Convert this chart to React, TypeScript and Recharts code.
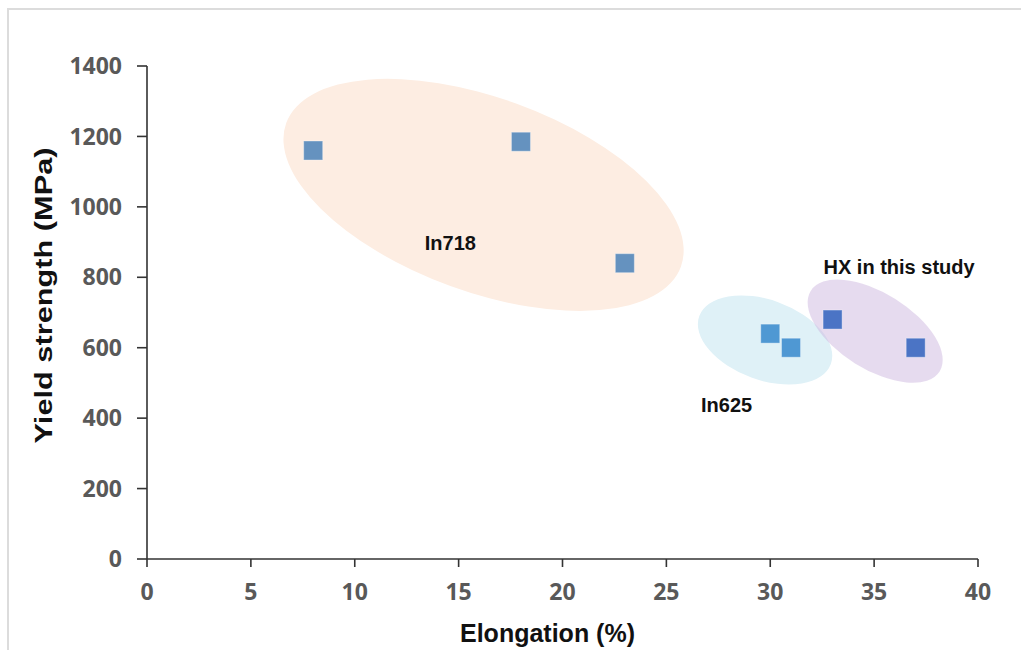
import React from 'react';
import { ScatterChart, Scatter, XAxis, YAxis } from 'recharts';

// ---- data ----
const in718X = [8, 18, 23];
const in718Y = [1160, 1185, 840];
const in625X = [30, 31];
const in625Y = [640, 600];
const hxX = [33, 37];
const hxY = [680, 600];

const groupNames = ['In718', 'In625', 'HX in this study'];
const groupCenterX = [16.2, 29.75, 35.05];
const groupCenterY = [1034, 622, 647];
const labelX = [14.6, 27.9, 36.2];
const labelY = [897, 437, 829];

const xTicks = [0, 5, 10, 15, 20, 25, 30, 35, 40];
const yTicks = [0, 200, 400, 600, 800, 1000, 1200, 1400];

const zip = (xs: number[], ys: number[]) => xs.map((x, i) => ({ x, y: ys[i] }));
const in718 = zip(in718X, in718Y);
const in625 = zip(in625X, in625Y);
const hx = zip(hxX, hxY);
const ellipseData = groupNames.map((name, i) => ({ name, x: groupCenterX[i], y: groupCenterY[i] }));
const labelData = groupNames.map((name, i) => ({ name, x: labelX[i], y: labelY[i] }));

// ---- styles ----
const ellipseStyle: Record<string, { rx: number; ry: number; angle: number; fill: string; opacity: number }> = {
  'In718': { rx: 210, ry: 97, angle: 20, fill: '#fdede2', opacity: 1 },
  'In625': { rx: 70, ry: 40, angle: 20, fill: '#dff1f7', opacity: 1 },
  'HX in this study': { rx: 76, ry: 38, angle: 32, fill: '#cdb8e0', opacity: 0.5 },
};

const EllipseShape = (props: any) => {
  const { cx, cy, payload } = props;
  const s = ellipseStyle[payload.name];
  return (
    <ellipse
      cx={cx}
      cy={cy}
      rx={s.rx}
      ry={s.ry}
      fill={s.fill}
      fillOpacity={s.opacity}
      transform={`rotate(${s.angle}, ${cx}, ${cy})`}
    />
  );
};

const LabelShape = (props: any) => {
  const { cx, cy, payload } = props;
  return (
    <text
      x={cx}
      y={cy}
      textAnchor="middle"
      dominantBaseline="central"
      fontFamily="'Liberation Sans', Arial, sans-serif"
      fontWeight={700}
      fontSize={20}
      fill="#111"
    >
      {payload.name}
    </text>
  );
};

const makeSquare = (color: string) => (props: any) => {
  const { cx, cy } = props;
  const s = 19;
  return <rect x={cx - s / 2} y={cy - s / 2} width={s} height={s} fill={color} stroke="#ffffff" strokeOpacity={0.35} strokeWidth={1} />;
};

const tickStyle = {
  fontFamily: "'Open Sans', sans-serif",
  fontWeight: 700,
  fontSize: 23,
  fill: '#595959',
};

const XTitle = (props: any) => {
  const vb = props.viewBox || {};
  return (
    <text
      x={vb.x + vb.width / 2 - 15}
      y={642}
      textAnchor="middle"
      fontFamily="'Liberation Sans', Arial, sans-serif"
      fontWeight={700}
      fontSize={25}
      fill="#111"
    >
      Elongation (%)
    </text>
  );
};

const YTitle = (props: any) => {
  const vb = props.viewBox || {};
  const x = 52;
  const y = vb.y + vb.height / 2 - 17;
  return (
    <text
      x={x}
      y={y}
      textAnchor="middle"
      fontFamily="'Liberation Sans', Arial, sans-serif"
      fontWeight={700}
      fontSize={24}
      fill="#111"
      textLength={296}
      lengthAdjust="spacingAndGlyphs"
      transform={`rotate(-90, ${x}, ${y})`}
    >
      Yield strength (MPa)
    </text>
  );
};

export default function App() {
  return (
    <div
      style={{
        position: 'absolute',
        left: 0,
        top: 0,
        width: 1021,
        height: 650,
        overflow: 'hidden',
        background: '#ffffff',
      }}
    >
      <div
        style={{
          position: 'absolute',
          left: 7,
          top: 8,
          width: 1100,
          height: 700,
          borderTop: '2px solid #dcdcdc',
          borderLeft: '2px solid #dcdcdc',
        }}
      />
      <div style={{ position: 'absolute', left: 0, top: 0 }}>
        <ScatterChart width={1021} height={650} margin={{ top: 66, right: 43, bottom: 31, left: 87 }}>
          <XAxis
            type="number"
            dataKey="x"
            domain={[0, 40]}
            ticks={xTicks}
            interval={0}
            allowDataOverflow
            height={60}
            tickSize={8}
            tickMargin={17}
            axisLine={{ stroke: '#333333', strokeWidth: 1.6 }}
            tickLine={{ stroke: '#333333', strokeWidth: 1.6 }}
            tick={tickStyle}
            label={<XTitle />}
          />
          <YAxis
            type="number"
            dataKey="y"
            domain={[0, 1400]}
            ticks={yTicks}
            interval={0}
            allowDataOverflow
            width={60}
            tickSize={10}
            tickMargin={15}
            axisLine={{ stroke: '#333333', strokeWidth: 1.6 }}
            tickLine={{ stroke: '#333333', strokeWidth: 1.6 }}
            tick={tickStyle}
            label={<YTitle />}
          />
          <Scatter data={ellipseData} shape={<EllipseShape />} isAnimationActive={false} />
          <Scatter data={in718} shape={makeSquare('#6592bf')} isAnimationActive={false} />
          <Scatter data={in625} shape={makeSquare('#4f98d3')} isAnimationActive={false} />
          <Scatter data={hx} shape={makeSquare('#4b74c5')} isAnimationActive={false} />
          <Scatter data={labelData} shape={<LabelShape />} isAnimationActive={false} />
        </ScatterChart>
      </div>
    </div>
  );
}
